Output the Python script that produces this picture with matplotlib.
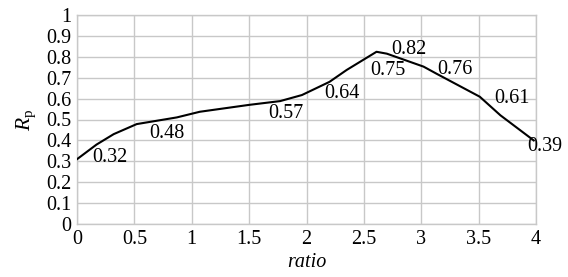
import matplotlib
matplotlib.use("Agg")
import matplotlib.pyplot as plt

plt.rcParams['font.family'] = ['Liberation Serif', 'DejaVu Serif']
plt.rcParams['mathtext.fontset'] = 'custom'
plt.rcParams['mathtext.rm'] = 'Liberation Serif'
plt.rcParams['mathtext.it'] = 'Liberation Serif:italic'

# curve data
ratio = [0.0, 0.17, 0.32, 0.52, 0.87, 1.07, 1.5, 1.77, 1.96, 2.2, 2.35, 2.61, 2.70, 3.02, 3.13, 3.51, 3.69, 3.98]
rp = [0.31, 0.38, 0.43, 0.478, 0.51, 0.537, 0.57, 0.588, 0.617, 0.68, 0.737, 0.824, 0.815, 0.753, 0.72, 0.609, 0.52, 0.40]

# annotation labels
label_texts = ["0.32", "0.48", "0.57", "0.64", "0.82", "0.75", "0.76", "0.61", "0.39"]
label_x = [0.29, 0.78, 1.82, 2.31, 2.89, 2.71, 3.29, 3.79, 4.08]
label_y = [0.316, 0.434, 0.53, 0.625, 0.836, 0.734, 0.74, 0.60, 0.37]

xticks = [0, 0.5, 1, 1.5, 2, 2.5, 3, 3.5, 4]
xticklabels = ["0", "0.5", "1", "1.5", "2", "2.5", "3", "3.5", "4"]
yticks = [0, 0.1, 0.2, 0.3, 0.4, 0.5, 0.6, 0.7, 0.8, 0.9, 1]
yticklabels = ["0", "0.1", "0.2", "0.3", "0.4", "0.5", "0.6", "0.7", "0.8", "0.9", "1"]

FS = 14.5

fig = plt.figure(figsize=(5.68, 2.77), dpi=100)
ax = fig.add_axes([77/568, 1-224/277, (536-77)/568, (224-15)/277])

ax.plot(ratio, rp, color='black', lw=1.5, zorder=3)
for t, x, y in zip(label_texts, label_x, label_y):
    ax.text(x, y, t, ha='center', va='center', fontsize=FS, zorder=4, clip_on=False)

ax.set_xlim(0, 4)
ax.set_ylim(0, 1)
ax.set_xticks(xticks)
ax.set_xticklabels(xticklabels)
ax.set_yticks(yticks)
ax.set_yticklabels(yticklabels)
ax.tick_params(length=0, labelsize=FS)
ax.tick_params(axis='y', pad=4)
ax.tick_params(axis='x', pad=4)
ax.grid(True, color='#c8c8c8', lw=1)
for s in ax.spines.values():
    s.set_color('#c8c8c8')
    s.set_linewidth(1)
ax.set_axisbelow(True)

ax.set_xlabel('ratio', fontstyle='italic', fontsize=FS, labelpad=3)
ax.set_ylabel(r'$\mathit{R}_{\mathrm{p}}$', fontsize=FS + 1, labelpad=6)

fig.savefig('out.png', dpi=100)
